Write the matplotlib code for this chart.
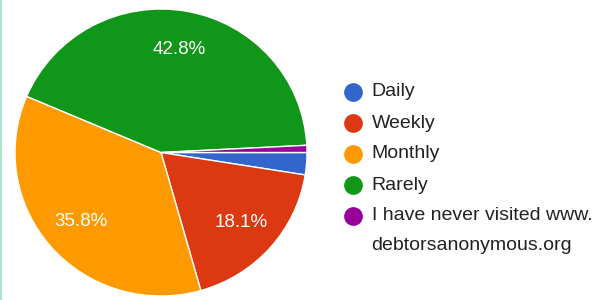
import matplotlib
matplotlib.use("Agg")
import matplotlib.pyplot as plt
from matplotlib.lines import Line2D

plt.rcParams['font.family'] = ['Liberation Sans', 'DejaVu Sans']

categories = ["Daily", "Weekly", "Monthly", "Rarely",
              "I have never visited www.\ndebtorsanonymous.org"]
values = [2.5, 18.1, 35.8, 42.8, 0.8]
colors = ["#3366cc", "#dc3912", "#ff9900", "#109618", "#990099"]

W, H = 602, 300
fig = plt.figure(figsize=(W / 100, H / 100), dpi=100)

# pie axes (pixel geometry: centre ~ (161,152.5), rx 146, ry 143.5)
cx, cy, rx, ry = 161, 152.5, 146, 143.5
ax = fig.add_axes([(cx - rx) / W, (H - cy - ry) / H, 2 * rx / W, 2 * ry / H])

def fmt(p):
    return f"{p:.1f}%" if p >= 5 else ""

wedges, texts, autotexts = ax.pie(
    values, colors=colors, startangle=0, counterclock=False,
    autopct=fmt, pctdistance=0.73,
    wedgeprops=dict(edgecolor="white", linewidth=1.0),
    textprops=dict(color="white", fontsize=13.5))
ax.set_xlim(-1, 1)
ax.set_ylim(-1, 1)
ax.set_aspect('auto')
ax.axis('off')

# legend drawn in pixel coordinates
lax = fig.add_axes([0, 0, 1, 1], facecolor='none')
lax.set_xlim(0, W)
lax.set_ylim(H, 0)
lax.axis('off')
y0, dy, line_dy = 92, 31, 29
for i, (cat, col) in enumerate(zip(categories, colors)):
    y = y0 + dy * i
    lax.plot([353], [y], marker='o', markersize=13.5, color=col,
             markeredgewidth=0, linestyle='none')
    for j, line in enumerate(cat.split("\n")):
        lax.text(371.5, y + line_dy * j, line, fontsize=14, color="#222222",
                 va='center', ha='left')

# thin mint border on the left
fig.add_artist(Line2D([0.7 / W, 0.7 / W], [0, 1], color="#a6e6c6",
                      linewidth=1.4, transform=fig.transFigure))

fig.savefig("out.png", dpi=100)
